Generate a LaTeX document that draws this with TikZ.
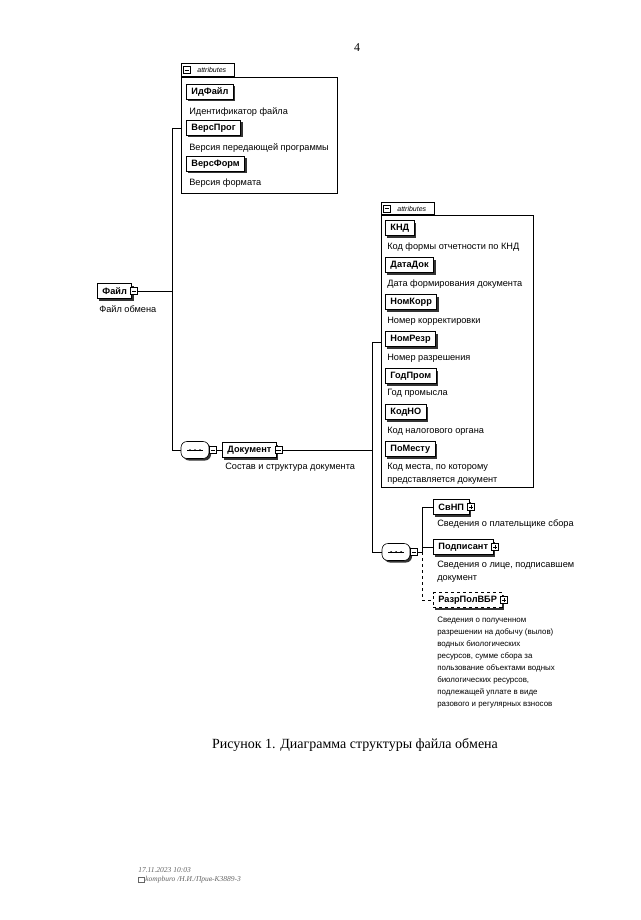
\documentclass[tikz,border=0pt]{standalone}
\usepackage{fontspec}
\setmainfont{Liberation Serif}
\newfontfamily\xsd{Liberation Sans}
\usetikzlibrary{shadows,positioning}

\begin{document}
\begin{tikzpicture}
[x=1pt,y=-1pt,line width=0.6pt,
elem/.style={draw,line width=0.9pt,fill=white,anchor=west,inner xsep=5pt,inner ysep=0pt,minimum height=15pt,font=\xsd\bfseries\fontsize{9.2}{11}\selectfont,drop shadow={shadow xshift=2pt,shadow yshift=-2pt,fill=black!80,opacity=1}},
optelem/.style={elem,dashed,line width=0.6pt},
desc/.style={anchor=north west,inner sep=0pt,align=left,font=\xsd\fontsize{9.2}{12.5}\selectfont},
grpbox/.style={draw,anchor=north west,inner sep=0pt},
tabbox/.style={draw,anchor=south west,inner xsep=2pt,inner ysep=0pt,minimum height=13pt,font=\xsd\itshape\fontsize{7}{8}\selectfont},
minusbox/.style={draw,fill=white,line width=0.5pt,anchor=west,minimum size=7pt,inner sep=0pt,path picture={\draw ([xshift=1.4pt]path picture bounding box.west) -- ([xshift=-1.4pt]path picture bounding box.east);}},
plusbox/.style={minusbox,path picture={\draw ([xshift=1.4pt]path picture bounding box.west) -- ([xshift=-1.4pt]path picture bounding box.east); \draw ([yshift=-1.4pt]path picture bounding box.north) -- ([yshift=1.4pt]path picture bounding box.south);}},
seqsym/.style={draw,fill=white,rounded corners=6pt,minimum width=28pt,minimum height=17pt,inner sep=0pt,drop shadow={shadow xshift=2pt,shadow yshift=-2pt,fill=black!80,opacity=1}},
]

\useasboundingbox (0,0) rectangle (640,920);

%Page number
\node (pagenum) at (357,48) {\fontsize{12}{14}\selectfont 4};

%Attributes of Файл
\node[grpbox,minimum width=156pt,minimum height=116pt] (attrs1) at (181,77) {};
\node[tabbox,minimum width=53pt] (tab1) at (181,77) {\hspace{8pt}attributes};
\node[minusbox] (tab1m) at ([xshift=2pt]tab1.west) {};

\node[elem] (idfile) at (186,92) {ИдФайл};
\node[desc] (idfiled) at (189,107) {Идентификатор файла};
\node[elem] (versprog) at (186,128) {ВерсПрог};
\node[desc] (versprogd) at (189,143) {Версия передающей программы};
\node[elem] (versform) at (186,164) {ВерсФорм};
\node[desc] (versformd) at (189,179) {Версия формата};

%Root element
\node[elem] (file) at (97,291) {Файл\hspace{5pt}};
\node[minusbox] (fileexp) at ([xshift=-2pt]file.east) {};
\node[desc] (filed) at (99,305) {Файл обмена};

%Sequence of Файл
\node[seqsym] (seq1) at (195,450) {};
\draw ([xshift=-8pt]seq1.center) -- ([xshift=8pt]seq1.center);
\foreach \dx in {-5,0,5} \fill ([xshift=\dx pt]seq1.center) circle (1pt);
\node[minusbox] (seq1exp) at (seq1.east) {};

\node[elem] (doc) at (222,450) {Документ\hspace{5pt}};
\node[minusbox] (docexp) at ([xshift=-2pt]doc.east) {};
\node[desc] (docd) at (225,463) {Состав и структура документа};

%Attributes of Документ
\node[grpbox,minimum width=152pt,minimum height=272pt] (attrs2) at (381,215) {};
\node[tabbox,minimum width=53pt,minimum height=12pt] (tab2) at (381,215) {\hspace{8pt}attributes};
\node[minusbox] (tab2m) at ([xshift=2pt]tab2.west) {};

\node[elem] (knd) at (385,228) {КНД\hspace{6pt}};
\node[desc] (kndd) at (387,243) {Код формы отчетности по КНД};
\node[elem] (datadok) at (385,265) {ДатаДок};
\node[desc] (datadokd) at (387,280) {Дата формирования документа};
\node[elem] (nomkorr) at (385,302) {НомКорр};
\node[desc] (nomkorrd) at (387,317) {Номер корректировки};
\node[elem] (nomrazr) at (385,339) {НомРезр};
\node[desc] (nomrazrd) at (387,354) {Номер разрешения};
\node[elem] (godprom) at (385,376) {ГодПром};
\node[desc] (godpromd) at (387,389) {Год промысла};
\node[elem] (kodno) at (385,412) {КодНО};
\node[desc] (kodnod) at (387,427) {Код налогового органа};
\node[elem] (pomestu) at (385,449) {ПоМесту};
\node[desc] (pomestud) at (387,463) {Код места, по которому\\представляется документ};

%Sequence of Документ
\node[seqsym] (seq2) at (396,552) {};
\draw ([xshift=-8pt]seq2.center) -- ([xshift=8pt]seq2.center);
\foreach \dx in {-5,0,5} \fill ([xshift=\dx pt]seq2.center) circle (1pt);
\node[minusbox] (seq2exp) at (seq2.east) {};

\node[elem] (svnp) at (433,507) {СвНП\hspace{6pt}};
\node[plusbox] (svnpexp) at ([xshift=-2pt]svnp.east) {};
\node[desc] (svnpd) at (437,519) {Сведения о плательщике сбора};
\node[elem] (podp) at (433,547) {Подписант\hspace{6pt}};
\node[plusbox] (podpexp) at ([xshift=-2pt]podp.east) {};
\node[desc] (podpd) at (437,561) {Сведения о лице, подписавшем\\документ};
\node[optelem] (razr) at (433,600) {РазрПолВБР\hspace{6pt}};
\node[plusbox] (razrexp) at ([xshift=-2pt]razr.east) {};
\node[desc,font=\xsd\fontsize{7.9}{12}\selectfont] (razrd) at (437,617) {Сведения о полученном\\разрешении на добычу (вылов)\\водных биологических\\ресурсов, сумме сбора за\\пользование объектами водных\\биологических ресурсов,\\подлежащей уплате в виде\\разового и регулярных взносов};

%Joining nodes
\coordinate (filebus) at (172,291);
\coordinate (filebusN) at (172,128);
\coordinate (filebusS) at (172,450);
\draw (fileexp.east) -- (filebus);
\draw (filebusN) -- (filebusS);
\draw (filebusN) -- (filebusN -| attrs1.west);
\draw (filebusS) -- (seq1.west);
\draw (seq1exp.east) -- (doc.west);

\coordinate (docbus) at (372,450);
\coordinate (docbusN) at (372,342);
\coordinate (docbusS) at (372,552);
\draw (docexp.east) -- (docbus);
\draw (docbusN) -- (docbusS);
\draw (docbusN) -- (docbusN -| attrs2.west);
\draw (docbusS) -- (seq2.west);

\coordinate (seqbus) at (422,552);
\coordinate (seqbusN) at (422,507);
\coordinate (seqbusS) at (422,600);
\draw (seq2exp.east) -- (seqbus);
\draw (seqbusN) -- (seqbus);
\draw[dashed] (seqbus) -- (seqbusS);
\draw (seqbusN) -- (svnp.west);
\draw (seqbus |- podp.west) -- (podp.west);
\draw[dashed] (seqbusS) -- (razr.west);

%Caption
\node (caption) at (355,745) {\fontsize{14}{17}\selectfont Рисунок 1. Диаграмма структуры файла обмена};

%Footer
\draw[black!60,line width=0.4pt] (138,877) rectangle (144,882);
\node[anchor=west,inner sep=0pt,text=black!60,font=\itshape\fontsize{7.5}{9}\selectfont] (stamp1) at (138,870) {17.11.2023 10:03};
\node[anchor=west,inner sep=0pt,text=black!60,font=\itshape\fontsize{7.5}{9}\selectfont] (stamp2) at (145,880) {kompburo /Н.И./Прив-К3889-3};

\end{tikzpicture}
\end{document}
